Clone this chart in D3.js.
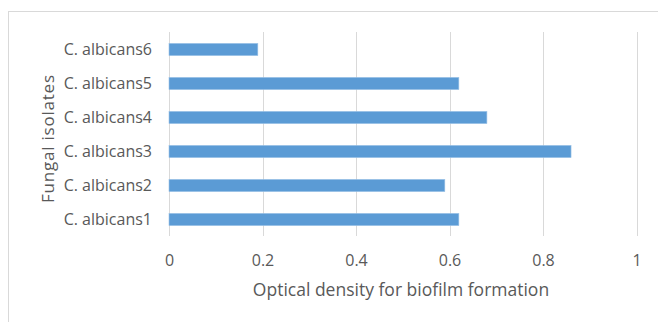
<!DOCTYPE html>
<html>
<head>
<meta charset="utf-8">
<script src="https://cdn.jsdelivr.net/npm/d3@7"></script>
<style>
  html, body { margin: 0; padding: 0; background: #fff; }
  svg { display: block; }
  text { font-family: "Open Sans", "Noto Sans", sans-serif; fill: #595959; }
</style>
</head>
<body>
<svg id="chart" width="658" height="322"></svg>
<script>
// Biofilm formation by isolate
const categories = ["C. albicans1", "C. albicans2", "C. albicans3", "C. albicans4", "C. albicans5", "C. albicans6"];
const values = [0.62, 0.59, 0.86, 0.68, 0.62, 0.19];
const xTicks = [0, 0.2, 0.4, 0.6, 0.8, 1];
const xTitle = "Optical density for biofilm formation";
const yTitle = "Fungal isolates";

const svg = d3.select("#chart");
const W = 658, H = 322;
const plot = { left: 169, right: 636.5, top: 32.5, bottom: 236.5 };

// chart frame
svg.append("rect")
  .attr("x", 8.5).attr("y", 11.5)
  .attr("width", W + 10).attr("height", H + 10)
  .attr("fill", "#fff").attr("stroke", "#d9d9d9").attr("stroke-width", 1);

const x = d3.scaleLinear().domain([0, 1]).range([plot.left, plot.right]);
const y = d3.scaleBand()
  .domain(categories.slice().reverse())
  .range([plot.top, plot.bottom])
  .paddingInner(0.64).paddingOuter(0.32);

// vertical gridlines
svg.append("g").selectAll("line")
  .data(xTicks).join("line")
  .attr("x1", d => Math.round(x(d)) + 0.5).attr("x2", d => Math.round(x(d)) + 0.5)
  .attr("y1", 32).attr("y2", 236)
  .attr("stroke", "#d9d9d9").attr("stroke-width", 1);

// bars
svg.append("g").selectAll("rect")
  .data(categories.map((c, i) => ({ c, v: values[i] })))
  .join("rect")
  .attr("x", x(0))
  .attr("y", d => y(d.c))
  .attr("width", d => x(d.v) - x(0))
  .attr("height", y.bandwidth())
  .attr("fill", "#5b9bd5")
  .attr("stroke", "#9dc3e6").attr("stroke-width", 0.6);

// x axis tick labels
const xAxis = d3.axisBottom(x).tickValues(xTicks).tickSize(0).tickPadding(0)
  .tickFormat(d3.format("~g"));
const gx = svg.append("g").attr("transform", `translate(0, 260)`).call(xAxis);
gx.select(".domain").remove();
gx.selectAll("text").attr("font-size", 16).attr("dy", "0.35em")
  .style("font-family", '"Open Sans", sans-serif').attr("fill", "#595959");

// y axis category labels
const yAxis = d3.axisLeft(y).tickSize(0).tickPadding(0);
const gy = svg.append("g").attr("transform", `translate(152, 0)`).call(yAxis);
gy.select(".domain").remove();
gy.selectAll("text").attr("font-size", 16)
  .style("font-family", '"Open Sans", sans-serif').attr("fill", "#595959");

// axis titles
svg.append("text")
  .attr("x", 401).attr("y", 296)
  .attr("text-anchor", "middle")
  .attr("font-size", 17.5).text(xTitle);

svg.append("text")
  .attr("transform", `translate(54, 139) rotate(-90)`)
  .attr("text-anchor", "middle")
  .attr("textLength", 128).attr("lengthAdjust", "spacing")
  .attr("font-size", 17).text(yTitle);
</script>
</body>
</html>
